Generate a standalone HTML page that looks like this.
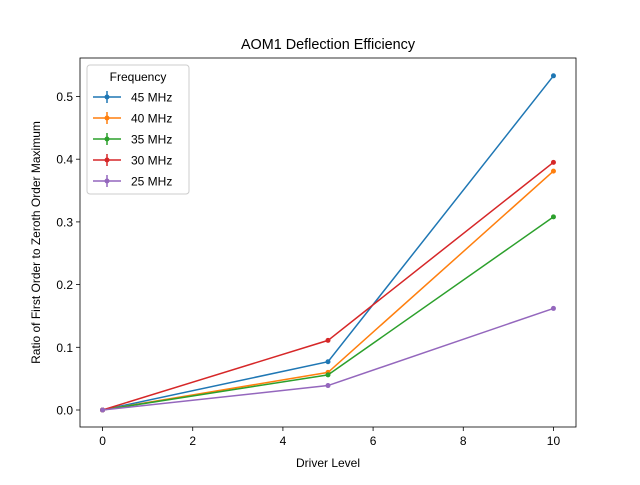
<!DOCTYPE html>
<html><head><meta charset="utf-8"><style>
body{margin:0;background:#fff}
svg text{font-family:"Liberation Sans","DejaVu Sans",sans-serif;fill:#000}
</style></head><body>
<svg width="640" height="480" xmlns="http://www.w3.org/2000/svg">
<g id="plot"></g>
</svg>
<script>
const xs=[0,5,10];
const labels=["45 MHz","40 MHz","35 MHz","30 MHz","25 MHz"];
const colors=["#1f77b4","#ff7f0e","#2ca02c","#d62728","#9467bd"];
const s45=[0,0.077,0.533];
const s40=[0,0.060,0.381];
const s35=[0,0.056,0.308];
const s30=[0,0.111,0.395];
const s25=[0,0.039,0.162];
const series=[s45,s40,s35,s30,s25];
const xticks=[0,2,4,6,8,10];
const yticks=[0.0,0.1,0.2,0.3,0.4,0.5];
const L=80,R=576,T=58,B=427;
const X=v=>L+(v+0.5)/11*(R-L);
const Y=v=>410-v*627;
const g=document.getElementById('plot');
const NS="http://www.w3.org/2000/svg";
function mk(t,a,p){const e=document.createElementNS(NS,t);for(const k in a)e.setAttribute(k,a[k]);(p||g).appendChild(e);return e;}
xticks.forEach(v=>{
 const t=mk('line',{x1:X(v),x2:X(v),y1:B,y2:B+4,stroke:'#000','stroke-width':0.8});
 
 
 const l=mk('text',{x:X(v),y:B+18,'text-anchor':'middle','font-size':12});l.textContent=v;
 
 
});
yticks.forEach(v=>{
 const t=mk('line',{x1:L-4,x2:L,y1:Y(v),y2:Y(v),stroke:'#000','stroke-width':0.8});
 
 
 const l=mk('text',{x:L-7,y:Y(v)+4.5,'text-anchor':'end','font-size':12});l.textContent=v.toFixed(1);
 
 
});
series.forEach((s,i)=>{
 const pl=mk('polyline',{points:s.map((v,j)=>X(xs[j])+','+Y(v)).join(' '),fill:'none',stroke:colors[i],'stroke-width':1.5});
 
 
 s.forEach((v,j)=>{const c=mk('circle',{cx:X(xs[j]),cy:Y(v),r:2.5,fill:colors[i]});
  
  });
});
const fr=mk('rect',{x:L,y:T,width:R-L,height:B-T,fill:'none',stroke:'#000','stroke-width':0.8});


const ti=mk('text',{x:(L+R)/2,y:49,'text-anchor':'middle','font-size':14.4});ti.textContent='AOM1 Deflection Efficiency';


const xl=mk('text',{x:(L+R)/2,y:467,'text-anchor':'middle','font-size':12});xl.textContent='Driver Level';


const yl=mk('text',{x:40,y:(T+B)/2,'text-anchor':'middle','font-size':12,transform:'rotate(-90 40 '+((T+B)/2)+')'});yl.textContent='Ratio of First Order to Zeroth Order Maximum';


const lg=mk('g',{});


mk('rect',{x:87,y:65,width:102,height:129,rx:3,fill:'#fff','fill-opacity':0.8,stroke:'#ccc'},lg);
const lt=mk('text',{x:138,y:81,'text-anchor':'middle','font-size':12},lg);lt.textContent='Frequency';
labels.forEach((n,i)=>{
 const y=97+i*21;
 const e=mk('g',{},lg);
 
 
 mk('line',{x1:93,x2:121,y1:y,y2:y,stroke:colors[i],'stroke-width':1.5},e);
 mk('line',{x1:107,x2:107,y1:y-6,y2:y+6,stroke:colors[i],'stroke-width':1.5},e);
 mk('circle',{cx:107,cy:y,r:2.5,fill:colors[i]},e);
 const t=mk('text',{x:131,y:y+4.5,'font-size':12},e);t.textContent=n;
});
</script>
</body></html>
